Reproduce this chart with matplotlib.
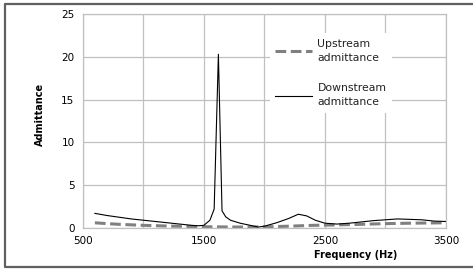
import matplotlib.pyplot as plt
from matplotlib.lines import Line2D

# frequency points (Hz) and admittance values
freq_down = [600, 700, 800, 900, 1000, 1100, 1200, 1300, 1400, 1450, 1500, 1550, 1585,
             1620, 1650, 1680, 1720, 1800, 1900, 1950, 2000, 2100, 2200, 2280, 2350,
             2420, 2500, 2600, 2700, 2800, 2900, 3000, 3100, 3200, 3300, 3400, 3500]
downstream = [1.7, 1.45, 1.25, 1.05, 0.9, 0.75, 0.6, 0.45, 0.3, 0.25, 0.3, 0.9, 2.2,
              20.3, 2.0, 1.3, 0.9, 0.55, 0.25, 0.1, 0.2, 0.6, 1.1, 1.6, 1.4,
              0.9, 0.55, 0.45, 0.55, 0.7, 0.85, 0.95, 1.05, 1.0, 0.95, 0.8, 0.75]

freq_up = [600, 700, 800, 900, 1000, 1200, 1400, 1600, 1800, 2000, 2200, 2400, 2600,
           2800, 3000, 3200, 3500]
upstream = [0.6, 0.5, 0.42, 0.36, 0.3, 0.22, 0.16, 0.12, 0.1, 0.12, 0.2, 0.3, 0.35,
            0.42, 0.5, 0.55, 0.6]

xticks = [500, 1500, 2500, 3500]
yticks = [0, 5, 10, 15, 20, 25]

fig = plt.figure(figsize=(4.73, 2.71), dpi=100)
ax = fig.add_axes([0.175, 0.159, 0.768, 0.789])

grid_c = '#c0c0c0'
ax.plot(freq_up, upstream, color='#808080', lw=2.2, dashes=(3.5, 1.5),
        label='Upstream\nadmittance')
ax.plot(freq_down, downstream, color='black', lw=0.8, label='Downstream\nadmittance')

ax.set_xlim(500, 3500)
ax.set_ylim(0, 25)
ax.set_xticks(xticks)
ax.set_xticks(range(500, 3501, 500), minor=True)
ax.set_yticks(yticks)
ax.grid(True, which='both', color=grid_c, lw=0.9)
ax.tick_params(which='both', length=0, labelsize=7.5, pad=6)
for s in ax.spines.values():
    s.set_color(grid_c)
    s.set_linewidth(0.9)

ax.set_ylabel('Admittance', fontsize=7, fontweight='bold')
ax.yaxis.set_label_coords(-0.105, 0.53)
ax.set_xlabel('Frequency (Hz)', fontsize=7, fontweight='bold')
ax.xaxis.set_label_coords(0.75, -0.105)

leg = ax.legend(loc='upper left', bbox_to_anchor=(0.5, 0.935), fontsize=7.8,
                frameon=True, fancybox=False, handlelength=3.4, handletextpad=0.5,
                labelspacing=1.9, borderpad=0.5)
leg.get_frame().set_edgecolor('none')
leg.get_frame().set_facecolor('white')
leg.get_frame().set_alpha(1)
for t in leg.get_texts():
    t.set_linespacing(1.5)
    t.set_color('#222222')

# outer chart border: top, left, bottom (right side is cut off in the original)
x0, x1 = 5 / 473, 1.0
y0, y1 = 1 - 267 / 271, 1 - 4 / 271
fig.lines.append(Line2D([x1, x0, x0, x1], [y1, y1, y0, y0],
                        transform=fig.transFigure, color='#606060', lw=1.6))

fig.savefig('out.png', dpi=100)
